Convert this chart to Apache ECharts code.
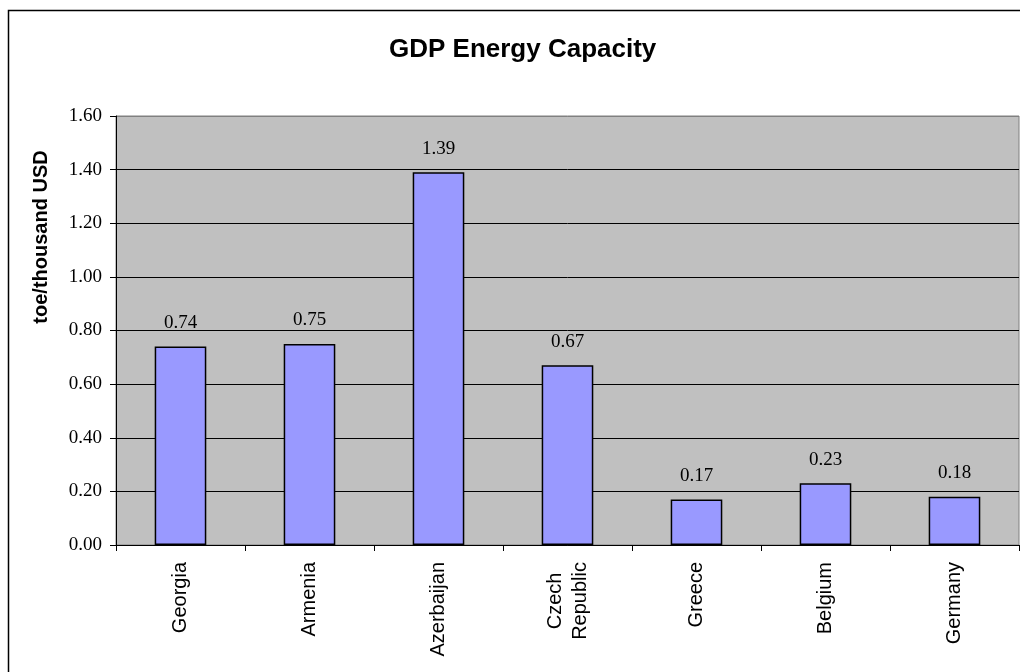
<!DOCTYPE html>
<html>
<head>
<meta charset="utf-8">
<script src="https://cdn.jsdelivr.net/npm/echarts@6/dist/echarts.min.js"></script>
<style>html,body{margin:0;padding:0;background:#fff;}#chart{width:1020px;height:672px;}</style>
</head>
<body>
<div id="chart"></div>
<script>
const categories = ['Georgia', 'Armenia', 'Azerbaijan', 'Czech Republic', 'Greece', 'Belgium', 'Germany'];
const values = [0.74, 0.75, 1.39, 0.67, 0.17, 0.23, 0.18];
const yTicks = [0, 0.2, 0.4, 0.6, 0.8, 1.0, 1.2, 1.4, 1.6];
const titleText = 'GDP Energy Capacity';
const yName = 'toe/thousand USD';

const chart = echarts.init(document.getElementById('chart'), null, {renderer: 'canvas'});
const sans = 'Liberation Sans, Arial, sans-serif';
const serif = 'Liberation Serif, Times New Roman, serif';
const splitColors = yTicks.map((t, i) => i === yTicks.length - 1 ? '#808080' : '#000000');

chart.setOption({
  animation: false,
  backgroundColor: '#ffffff',
  title: {
    text: titleText,
    left: 384, top: 32,
    textStyle: {fontFamily: sans, fontWeight: 'bold', fontSize: 26, color: '#000'}
  },
  graphic: [
    {type: 'rect', shape: {x: 8.5, y: 10.5, width: 1030, height: 700},
     style: {fill: 'none', stroke: '#000', lineWidth: 1.5}, silent: true, z: 100},
    {type: 'text', x: 41, y: 237, rotation: Math.PI / 2,
     style: {text: yName, fontFamily: sans, fontWeight: 'bold', fontSize: 20, fill: '#000',
             align: 'center', verticalAlign: 'middle'}}
  ],
  grid: {left: 116, right: 1, top: 116, bottom: 127, show: true,
         backgroundColor: '#C0C0C0', borderColor: '#808080', borderWidth: 1},
  xAxis: {
    type: 'category', data: categories,
    axisLine: {show: true, lineStyle: {color: '#000', width: 1}},
    axisTick: {show: true, length: 6, alignWithLabel: false, lineStyle: {color: '#000'}},
    axisLabel: {
      rotate: 90, margin: 17, color: '#000', fontFamily: sans, fontSize: 20,
      lineHeight: 25,
      formatter: function (v) {
        return v.split(' ').map(s => '{c|' + s + '}').join('\n');
      },
      rich: {c: {align: 'center', fontFamily: sans, fontSize: 20, lineHeight: 25, color: '#000'}}
    },
    splitLine: {show: false}
  },
  yAxis: {
    type: 'value', min: 0, max: 1.6, interval: 0.2,
    axisLine: {show: true, lineStyle: {color: '#000', width: 1}},
    axisTick: {show: true, length: 6, lineStyle: {color: '#000'}},
    axisLabel: {margin: 14, color: '#000', fontFamily: serif, fontSize: 19,
                formatter: v => v.toFixed(2)},
    splitLine: {show: true, lineStyle: {color: splitColors, width: 1}}
  },
  series: [{
    type: 'bar', data: values, barWidth: '40%',
    itemStyle: {color: '#9999FF', borderColor: '#000', borderWidth: 1.5},
    label: {show: true, position: 'top', distance: 14, color: '#000',
            fontFamily: serif, fontSize: 19, formatter: p => p.value.toFixed(2)}
  }]
});
</script>
</body>
</html>
